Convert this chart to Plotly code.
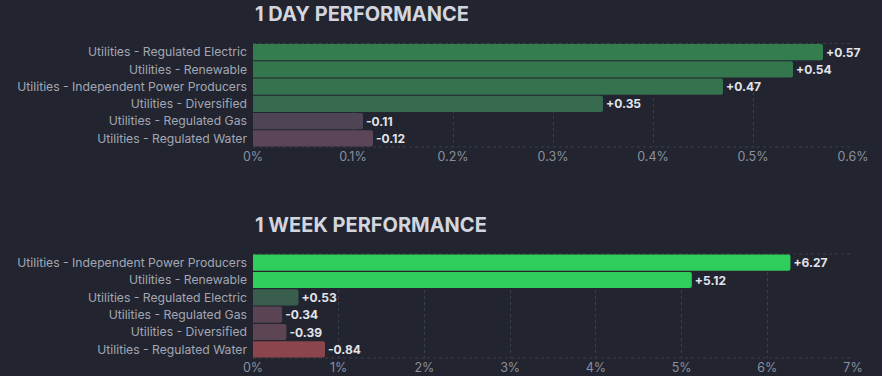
import plotly.graph_objects as go
from plotly.subplots import make_subplots

day_categories = ["Utilities - Regulated Electric", "Utilities - Renewable",
                  "Utilities - Independent Power Producers", "Utilities - Diversified",
                  "Utilities - Regulated Gas", "Utilities - Regulated Water"]
day_values = [0.57, 0.54, 0.47, 0.35, -0.11, -0.12]
day_colors = ["#337d4e", "#34774e", "#35724e", "#376a4f", "#4f4455", "#5a4656"]

week_categories = ["Utilities - Independent Power Producers", "Utilities - Renewable",
                   "Utilities - Regulated Electric", "Utilities - Regulated Gas",
                   "Utilities - Diversified", "Utilities - Regulated Water"]
week_values = [6.27, 5.12, 0.53, -0.34, -0.39, -0.84]
week_colors = ["#2fcd5b", "#2fcd5b", "#3a5e4e", "#5a4453", "#5d4553", "#8b454d"]

day_ticks = [0, 0.1, 0.2, 0.3, 0.4, 0.5, 0.6]
day_ticktext = ["0%", "0.1%", "0.2%", "0.3%", "0.4%", "0.5%", "0.6%"]
week_ticks = [0, 1, 2, 3, 4, 5, 6, 7]
week_ticktext = ["0%", "1%", "2%", "3%", "4%", "5%", "6%", "7%"]

BG = "#22252f"
GRID = "#3b3f4b"
W, H = 882, 376

fig = make_subplots(rows=2, cols=1)

def fmt(v):
    return ("+" if v >= 0 else "") + f"{v:.2f}"

for row, cats, vals, cols in [(1, day_categories, day_values, day_colors),
                              (2, week_categories, week_values, week_colors)]:
    fig.add_trace(go.Bar(
        y=cats, x=[abs(v) for v in vals], orientation="h",
        marker=dict(color=cols, line=dict(width=0), cornerradius=2),
        text=[fmt(v) for v in vals], textposition="outside",
        textfont=dict(family="Inter", size=12, color="#e2e4ea", weight="bold"),
        cliponaxis=False, width=0.93, hoverinfo="skip", showlegend=False,
    ), row=row, col=1)

d1 = [1 - 147 / H, 1 - 43.5 / H]
d2 = [1 - 358 / H, 1 - 254 / H]

common_x = dict(showgrid=True, gridcolor=GRID, griddash="3px,3px", gridwidth=1,
                zeroline=False, showline=False, ticks="",
                tickfont=dict(family="Inter", size=12.5, color="#8a8f9e"))
common_y = dict(showgrid=False, zeroline=False, showline=False, ticks="",
                autorange="reversed", ticklabelstandoff=5,
                tickfont=dict(family="Inter", size=12.2, color="#a3a7b5"))

fig.update_layout(
    width=W, height=H, paper_bgcolor=BG, plot_bgcolor=BG,
    margin=dict(l=253, r=29, t=0, b=0),
    bargap=0.07,
    xaxis=dict(domain=[0, 1], range=[0, 0.6], tickvals=day_ticks, ticktext=day_ticktext, **common_x),
    yaxis=dict(domain=d1, **common_y),
    xaxis2=dict(domain=[0, 1], range=[0, 7], tickvals=week_ticks, ticktext=week_ticktext, **common_x),
    yaxis2=dict(domain=d2, **common_y),
)

# dashed top/bottom frame lines
for xref, yref in [("x domain", "y domain"), ("x2 domain", "y2 domain")]:
    for yy in [0, 1]:
        fig.add_shape(type="line", xref=xref, yref=yref, x0=0, x1=1, y0=yy, y1=yy,
                      line=dict(color=GRID, width=1, dash="3px,3px"), layer="below")

for text, ypix in [("1 DAY PERFORMANCE", 14), ("1 WEEK PERFORMANCE", 225)]:
    fig.add_annotation(text=text, xref="paper", yref="paper", x=0, y=1 - ypix / H,
                       xanchor="left", yanchor="middle", showarrow=False,
                       font=dict(family="Inter", size=20, color="#d2d5de", weight="bold"))

fig.write_html("out.html", config={"displayModeBar": False},
               post_script="document.body.style.margin='0';document.body.style.background='%s';" % BG)
